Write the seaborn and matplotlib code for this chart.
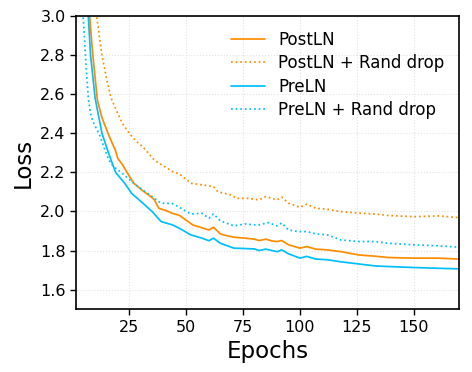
import matplotlib
matplotlib.use("Agg")
import matplotlib.pyplot as plt
import seaborn as sns
import pandas as pd

# ---- data ----
post_ep = [2, 4, 6, 8, 9, 11, 13, 16, 19, 20, 22, 24, 27, 31, 34, 36, 38, 41, 44, 47, 50, 53,
           56, 58, 60, 62, 65, 68, 71, 76, 80, 82, 85, 88, 90, 92, 95, 100, 103, 107, 112, 118,
           126, 133, 139, 150, 161, 170]
post_loss = [4.3, 3.6, 3.25, 2.94, 2.8, 2.57, 2.48, 2.39, 2.31, 2.27, 2.24, 2.20, 2.144, 2.105,
             2.08, 2.06, 2.016, 2.005, 1.99, 1.98, 1.955, 1.93, 1.92, 1.912, 1.905, 1.919, 1.885,
             1.875, 1.868, 1.863, 1.858, 1.851, 1.858, 1.848, 1.846, 1.851, 1.829, 1.812, 1.82,
             1.807, 1.803, 1.794, 1.777, 1.771, 1.764, 1.761, 1.761, 1.756]

postdrop_ep = [2, 5, 8, 10, 11, 13, 15, 17, 20, 22, 25, 28, 31, 34, 36, 38, 41, 44, 47, 50, 52,
               57, 62, 64, 70, 72, 77, 82, 85, 90, 92, 95, 100, 103, 107, 112, 118, 126, 133,
               139, 150, 161, 170]
postdrop_loss = [4.8, 3.6, 3.25, 3.05, 2.97, 2.8, 2.68, 2.58, 2.5, 2.45, 2.4, 2.36, 2.33, 2.29,
                 2.263, 2.247, 2.226, 2.204, 2.192, 2.165, 2.144, 2.136, 2.127, 2.10, 2.084, 2.067,
                 2.067, 2.059, 2.076, 2.059, 2.073, 2.042, 2.021, 2.037, 2.016, 2.011, 1.999,
                 1.991, 1.987, 1.979, 1.973, 1.977, 1.968]

pre_ep = [2, 4, 7, 8, 10, 13, 15, 17, 19, 23, 26, 31, 35, 39, 44, 47, 52, 57, 60, 62, 65, 71,
          76, 80, 82, 85, 90, 92, 95, 100, 103, 107, 112, 118, 126, 133, 139, 150, 161, 170]
pre_loss = [4.0, 3.4, 3.0, 2.8, 2.58, 2.4, 2.33, 2.263, 2.2, 2.144, 2.093, 2.042, 2.0, 1.948,
            1.931, 1.914, 1.88, 1.863, 1.85, 1.863, 1.837, 1.812, 1.81, 1.808, 1.8, 1.807, 1.794,
            1.803, 1.783, 1.761, 1.77, 1.756, 1.753, 1.742, 1.731, 1.721, 1.718, 1.713, 1.709,
            1.706]

predrop_ep = [2, 4, 5, 6, 7, 8, 9, 12, 16, 18, 21, 27, 32, 39, 41, 44, 47, 52, 57, 60, 62, 65,
              71, 76, 80, 82, 86, 90, 92, 95, 99, 103, 107, 112, 118, 126, 133, 139, 150, 161, 170]
predrop_loss = [3.7, 3.15, 2.95, 2.75, 2.58, 2.5, 2.46, 2.39, 2.263, 2.23, 2.204, 2.144, 2.101,
                2.042, 2.042, 2.04, 2.021, 1.987, 1.99, 1.965, 1.987, 1.952, 1.926, 1.936, 1.931,
                1.931, 1.943, 1.926, 1.941, 1.905, 1.897, 1.897, 1.885, 1.88, 1.854, 1.846,
                1.846, 1.837, 1.829, 1.824, 1.817]

labels = ["PostLN", "PostLN + Rand drop", "PreLN", "PreLN + Rand drop"]
x_ticks = [25, 50, 75, 100, 125, 150]
y_ticks = [1.6, 1.8, 2.0, 2.2, 2.4, 2.6, 2.8, 3.0]

# ---- plotting ----
sns.set_style("white")
plt.rcParams["font.family"] = ["DejaVu Sans"]
plt.rcParams["text.color"] = "black"
plt.rcParams["axes.labelcolor"] = "black"
plt.rcParams["xtick.color"] = "black"
plt.rcParams["ytick.color"] = "black"

fig = plt.figure(figsize=(4.72, 3.72), dpi=100)
ax = fig.add_axes([0.161, 0.169, 0.812, 0.788])

series = [
    (post_ep, post_loss, labels[0], "#ff8c00", "-"),
    (postdrop_ep, postdrop_loss, labels[1], "#ff8c00", ":"),
    (pre_ep, pre_loss, labels[2], "#00bfff", "-"),
    (predrop_ep, predrop_loss, labels[3], "#00bfff", ":"),
]
for ep, loss, lab, col, ls in series:
    df = pd.DataFrame({"Epochs": ep, "Loss": loss})
    sns.lineplot(data=df, x="Epochs", y="Loss", ax=ax, color=col, linestyle=ls,
                 linewidth=1.25, label=lab)

ax.set_xlim(1.6, 170)
ax.set_ylim(1.5, 3.0)
ax.set_xticks(x_ticks)
ax.set_yticks(y_ticks)
ax.set_xticklabels([str(t) for t in x_ticks], fontsize=11.5)
ax.set_yticklabels([f"{t:.1f}" for t in y_ticks], fontsize=11.5)
ax.tick_params(axis="both", which="both", direction="out", length=4, width=1,
               color="black", labelcolor="black", bottom=True, left=True)
ax.grid(True, linestyle=":", color="#e2e2e2", linewidth=0.8)
for s in ax.spines.values():
    s.set_color("black")
    s.set_linewidth(1.2)
ax.set_xlabel("Epochs", fontsize=16.5, color="black")
ax.set_ylabel("Loss", fontsize=16.5, color="black")
leg = ax.legend(loc="upper right", frameon=False, fontsize=12, labelspacing=0.32,
                bbox_to_anchor=(1.0, 1.0))
for t in leg.get_texts():
    t.set_color("black")

fig.savefig("out.png", dpi=100)
